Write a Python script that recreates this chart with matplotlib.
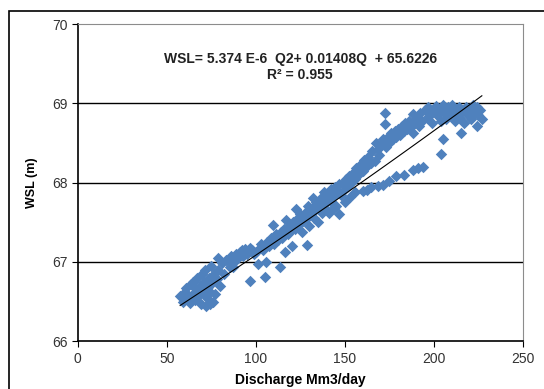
import numpy as np
import matplotlib
matplotlib.use("Agg")
import matplotlib.pyplot as plt
from matplotlib.patches import Rectangle

plt.rcParams['font.family'] = ['Liberation Sans', 'DejaVu Sans']

# discharge (Mm3/day) and water surface level (m)
q_low = [57.5, 59, 60, 61, 62, 63, 63.5, 64.5, 65, 66, 66.5, 67, 68, 68.5, 69, 70,
         70.5, 71, 71.5, 72, 72.5, 73, 73.5, 74, 74.5, 75, 75.5, 76, 76.5, 77, 78,
         78.5, 79, 80, 81, 82, 83]
w_low = [66.57, 66.50, 66.62, 66.67, 66.55, 66.48, 66.72, 66.60, 66.75, 66.52, 66.66,
         66.80, 66.58, 66.70, 66.47, 66.85, 66.62, 66.75, 66.90, 66.44, 66.55, 66.68,
         66.80, 66.47, 66.62, 66.95, 66.73, 66.50, 66.85, 66.60, 66.78, 67.05, 66.90,
         66.70, 66.98, 66.85, 67.03]

q_mid = [84.5, 85.5, 86, 87, 88, 89, 90, 91, 92, 93, 94, 95, 96.6, 97, 98, 99,
         100, 101.3, 102.2, 103, 104, 105, 106, 106.5, 107.5, 108.5, 109.7, 109.7,
         110.5, 111.5, 112.5, 113.5, 114, 115, 116, 116.5, 117.2, 118, 119, 120, 120.5]
w_mid = [67.02, 66.93, 67.08, 66.93, 67.00, 67.10, 67.05, 67.12, 67.15, 67.08, 67.16,
         67.10, 66.76, 67.18, 67.15, 67.10,
         67.13, 66.97, 67.18, 67.22, 67.15, 66.81, 67.00, 67.25, 67.20, 67.30, 67.25,
         67.47, 67.22, 67.35, 67.28, 66.93, 67.38, 67.30, 67.42, 67.12, 67.53, 67.35,
         67.45, 67.40, 67.20]

q_band = [121, 122, 122.8, 123.5, 124.5, 125, 126, 126.5, 127.5, 128.5, 128.5, 129.5,
          130, 130.5, 131.5, 132.2, 132.5, 133.5, 134, 135, 135.5, 136.5, 137, 138,
          138.5, 139.5, 140, 141, 142, 142.5, 143.5, 144.5, 145, 146, 147, 148, 149,
          150, 150.5]
w_band = [67.50, 67.42, 67.67, 67.55, 67.48, 67.60, 67.38, 67.52, 67.62, 67.21, 67.55,
          67.70, 67.45, 67.60, 67.68, 67.81, 67.55, 67.65, 67.75, 67.50, 67.70, 67.80,
          67.62, 67.72, 67.88, 67.78, 67.65, 67.85, 67.75, 67.92, 67.82, 67.95, 67.70,
          67.88, 67.98, 67.85, 68.00, 67.92, 68.05]

q_high = [151.5, 152.5, 153.5, 154.5, 155.5, 156.5, 157.5, 158.5, 160, 161, 162, 163,
          164.5, 165.5, 166.9, 167.8, 168.5, 169.5, 170.5, 171.5, 172.5, 172.5, 173,
          174, 175, 176, 177, 178, 179, 180, 181, 182, 183, 184, 185, 186, 187, 188.4,
          188.5, 189.5, 190.5, 191.5, 192.5, 193.5, 195, 196, 197, 198, 199, 200, 201,
          202, 203, 204, 205, 206, 207, 208, 209, 210, 211, 212, 213, 214, 215, 216,
          217, 218, 219, 220, 221, 222, 223, 224, 225, 226, 227, 204.3, 205.2, 215.3,
          224.5]
w_high = [67.95, 68.08, 68.00, 68.12, 68.05, 68.18, 68.10, 68.22, 68.15, 68.28, 68.20,
          68.32, 68.25, 68.40, 68.27, 68.50, 68.42, 68.35, 68.48, 68.55, 68.88, 68.74,
          68.45, 68.58, 68.50, 68.62, 68.55, 68.65, 68.58, 68.68, 68.60, 68.72, 68.65,
          68.75, 68.68, 68.78, 68.70, 68.86, 68.62, 68.76, 68.82, 68.72, 68.88, 68.78,
          68.92, 68.82, 68.95, 68.85, 68.75, 68.90, 68.97, 68.85, 68.93, 68.78, 68.98,
          68.88, 68.80, 68.95, 68.85, 68.98, 68.92, 68.78, 68.88, 68.96, 68.82, 68.90,
          68.75, 68.95, 68.85, 68.92, 68.80, 68.98, 68.88, 68.95, 68.85, 68.92, 68.80,
          68.36, 68.55, 68.63, 68.72]

# lower branch below the trend line
q_branch = [141, 144, 147, 150, 153, 156, 160, 162.2, 165, 168.5, 171.5, 175, 179,
            183, 188.4, 191, 194]
w_branch = [67.62, 67.68, 67.60, 67.75, 67.82, 67.88, 67.90, 67.91, 67.95, 67.96,
            67.97, 68.02, 68.08, 68.10, 68.16, 68.18, 68.20]

Q = np.array(q_low + q_mid + q_band + q_high + q_branch)
W = np.array(w_low + w_mid + w_band + w_high + w_branch)

# trend line coefficients from the chart label
coef = [5.374e-6, 0.01408, 65.6226]

fig = plt.figure(figsize=(5.44, 3.89), dpi=100)
ax = fig.add_axes([0.143, 0.123, 0.818, 0.815])

ax.scatter(Q, W, marker='D', s=34, color='#4F81BD', linewidths=0, zorder=3)

qq = np.linspace(Q.min(), Q.max(), 100)
ax.plot(qq, np.polyval(coef, qq), color='black', lw=0.8, zorder=4)

ax.set_xlim(0, 250)
ax.set_ylim(66, 70)
ax.set_xticks([0, 50, 100, 150, 200, 250])
ax.set_yticks([66, 67, 68, 69, 70])
for y in [67, 68, 69]:
    ax.axhline(y, color='black', lw=1, zorder=1)

ax.spines['top'].set_color('#8c8c8c')
ax.spines['right'].set_color('#8c8c8c')
ax.spines['left'].set_linewidth(1.2)
ax.spines['bottom'].set_linewidth(1.2)
ax.tick_params(direction='out', length=4, labelsize=10, labelcolor='#333333')

ax.set_xlabel('Discharge Mm3/day', fontsize=10, fontweight='bold', labelpad=5)
ax.set_ylabel('WSL (m)', fontsize=9, fontweight='bold', labelpad=10)

ax.text(0.5, 0.89, 'WSL= 5.374 E-6  Q2+ 0.01408Q  + 65.6226', transform=ax.transAxes,
        ha='center', va='center', fontsize=10, fontweight='bold', color='#222222')
ax.text(0.5, 0.84, 'R² = 0.955', transform=ax.transAxes,
        ha='center', va='center', fontsize=10, fontweight='bold', color='#222222')

fig.patches.append(Rectangle((9 / 544, -0.05), 1.0, 1 - 11 / 389 + 0.05,
                             transform=fig.transFigure, fill=False,
                             edgecolor='black', lw=1.2))

fig.savefig('out.png', dpi=100)
